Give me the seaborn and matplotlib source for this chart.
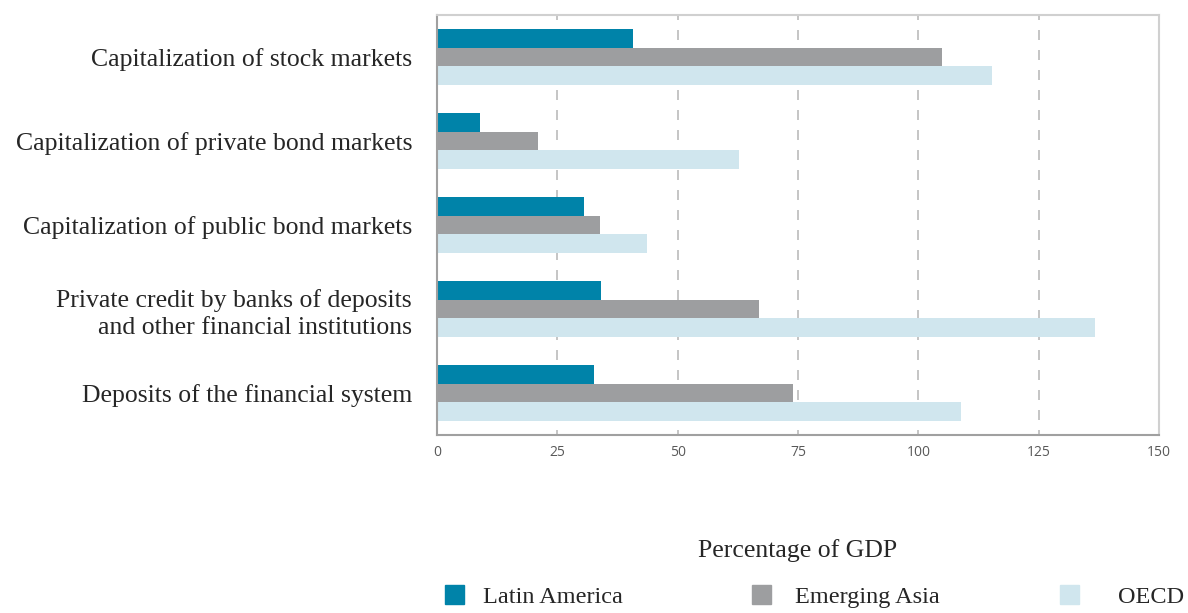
import numpy as np
import pandas as pd
import matplotlib
matplotlib.use("Agg")
import matplotlib.pyplot as plt
from matplotlib.patches import Patch
import seaborn as sns

# dane (% PKB)
categories = [
    "Capitalization of stock markets",
    "Capitalization of private bond markets",
    "Capitalization of public bond markets",
    "Private credit by banks of deposits\nand other financial institutions",
    "Deposits of the financial system",
]
regions = ["Latin America", "Emerging Asia", "OECD"]
latin_america = [40.8, 9.0, 30.5, 34.0, 32.7]
emerging_asia = [104.9, 21.0, 33.8, 67.0, 73.9]
oecd = [115.4, 62.7, 43.7, 136.6, 108.9]

colors = ["#0083A9", "#9D9EA0", "#D0E6EE"]

df = pd.DataFrame({
    "category": categories * 3,
    "region": [r for r in regions for _ in categories],
    "value": latin_america + emerging_asia + oecd,
})

sns.set_style("white")
serif = ["Liberation Serif", "DejaVu Serif"]
fs = 18.5

fig = plt.figure(figsize=(11.88, 6.13), dpi=100)
ax = fig.add_axes([437 / 1188, 1 - 435 / 613, 722 / 1188, 420 / 613])

sns.barplot(data=df, y="category", x="value", hue="region",
            hue_order=regions, order=categories, palette=colors,
            orient="h", width=0.66, saturation=1, linewidth=0,
            ax=ax, legend=False)

ax.set_xlim(0, 150)
ax.set_ylim(len(categories) - 0.5, -0.5)
ax.set_xticks(np.arange(0, 151, 25))
ax.tick_params(axis="x", labelsize=10, labelcolor="#595959", length=4,
               color="#888888", direction="inout", pad=5)
for t in ax.get_xticklabels():
    t.set_fontfamily(["Open Sans", "DejaVu Sans"])

# etykiety kategorii na środku, kreski na granicach grup
ax.set_yticks(range(len(categories)))
ax.set_yticklabels(categories, fontsize=fs, family=serif, linespacing=1.3)
ax.tick_params(axis="y", which="major", length=0, pad=18)
ax.set_yticks(np.arange(-0.5, len(categories), 1), minor=True)
ax.tick_params(axis="y", which="minor", length=5, color="#666666", width=1.2)

ax.grid(axis="x", linestyle=(3, (6, 6)), color="#BBBBBB", linewidth=1.2)
ax.set_axisbelow(True)
for s in ax.spines.values():
    s.set_visible(True)
    s.set_color("#D0D0D0")
    s.set_linewidth(1.5)
ax.spines["left"].set_color("#A0A0A0")
ax.spines["bottom"].set_color("#A0A0A0")

ax.set_ylabel("")
ax.set_xlabel("Percentage of GDP", fontsize=fs, family=serif, labelpad=57)

# legenda: trzy osobne wpisy rozstawione co ~308 px
legend_x = [435, 742, 1050]
textpads = [0.78, 1.0, 1.6]
for reg, col, lx, tp in zip(regions, colors, legend_x, textpads):
    fig.legend([Patch(color=col)], [reg], loc="lower left",
               bbox_to_anchor=(lx / 1188, -0.008), frameon=False,
               prop={"family": serif, "size": 17.5},
               handlelength=0.8, handleheight=0.8, handletextpad=tp,
               borderaxespad=0)

fig.savefig("out.png", dpi=100)
